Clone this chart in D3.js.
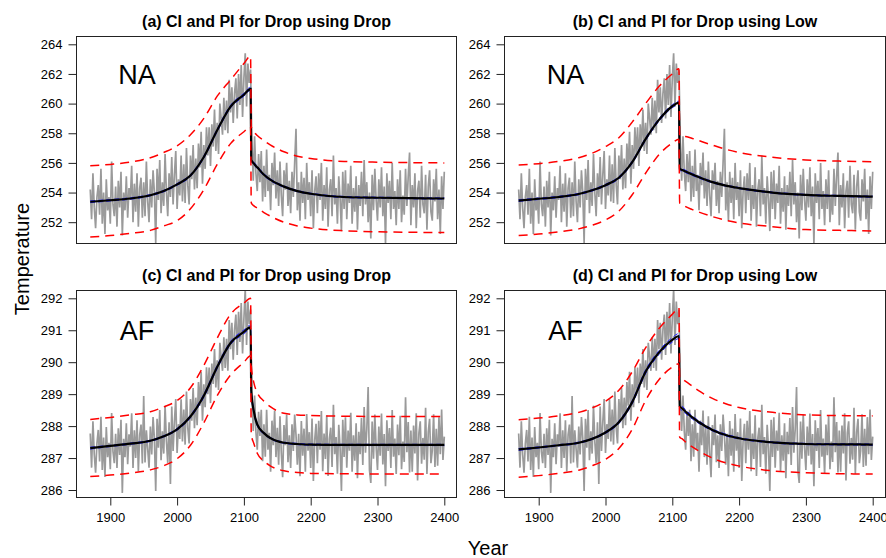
<!DOCTYPE html>
<html>
<head>
<meta charset="utf-8">
<script src="https://cdn.jsdelivr.net/npm/d3@7"></script>
<style>
  body { margin: 0; background: #fff; }
  text { font-family: "Liberation Sans", Arial, Helvetica, sans-serif; }
</style>
</head>
<body>
<svg id="fig" width="886" height="558"></svg>
<script>
// knot years for the fitted curves (drop happens between 2110 and 2111)
var knotYears = [1870,1900,1930,1960,1980,2000,2020,2040,2060,2080,2100,2110,
                 2111,2115,2120,2130,2140,2160,2180,2200,2250,2300,2350,2400];

// observed series, one value every 2 years from 1870 to 2400
var obsNA = [
  254.2,252.2,255.3,253.0,251.6,253.7,254.5,252.5,255.6,251.9,
  254.0,251.2,254.9,252.8,253.7,251.9,256.1,253.2,252.4,254.4,
  251.7,254.8,253.0,255.4,251.1,254.0,252.8,255.1,252.3,254.3,
  253.5,255.8,252.0,254.6,252.7,255.3,251.7,254.3,255.0,252.3,
  254.7,252.4,256.1,253.4,252.0,254.9,253.0,255.5,254.0,250.6,
  255.6,253.5,256.2,252.6,254.7,253.1,256.6,254.0,252.4,255.3,
  253.7,256.4,253.2,255.2,256.8,252.9,254.9,253.8,256.5,253.4,
  255.9,253.3,257.0,254.5,253.2,256.5,254.9,257.2,254.2,256.3,
  254.3,257.3,255.7,258.1,254.6,257.2,255.6,258.4,256.5,258.4,
  255.8,258.6,257.1,259.6,256.8,258.7,256.6,260.0,259.0,257.9,
  260.4,258.2,260.2,258.0,261.6,259.4,261.1,258.7,260.7,261.7,
  259.0,262.0,259.9,262.6,259.1,261.7,263.4,259.8,262.7,261.4,
  262.3,257.4,254.8,257.8,255.3,254.1,256.6,254.7,256.8,253.4,
  255.8,253.7,256.9,254.1,255.2,252.8,256.0,254.5,256.7,253.6,
  255.5,253.1,256.1,253.8,252.4,255.5,254.2,256.0,253.1,254.8,
  252.6,255.4,253.7,256.0,258.3,252.8,254.7,252.1,255.4,253.3,
  255.0,252.2,256.0,253.5,254.7,252.4,255.5,251.6,254.1,255.1,
  252.6,255.3,253.5,256.0,252.1,254.5,252.9,255.7,251.7,254.2,
  254.9,252.4,256.5,253.2,254.3,251.9,255.1,253.6,251.4,255.4,
  252.9,255.5,252.2,254.6,253.3,255.8,251.9,254.3,252.7,255.1,
  251.5,254.5,253.1,255.4,252.4,256.2,253.2,254.7,252.0,254.0,
  250.9,255.2,252.8,255.6,253.5,252.1,254.9,253.0,255.7,252.4,
  254.4,250.5,255.3,253.3,254.8,252.2,256.0,252.9,254.1,251.8,
  254.9,252.9,255.5,252.0,253.8,252.5,255.6,253.1,255.1,256.7,
  251.8,254.5,253.0,255.3,251.6,254.1,254.8,252.3,255.8,253.2,
  252.6,255.2,251.5,254.4,255.5,252.7,252.1,254.9,253.4,255.6,
  252.2,254.2,251.2,255.1,252.9,255.4
];
var obsAF = [
  287.77,286.70,288.15,287.11,286.54,287.46,287.88,286.89,288.29,286.63,
  287.64,286.41,287.97,287.03,287.48,286.65,288.41,287.21,286.84,287.76,
  286.69,287.93,287.10,288.20,285.91,287.60,287.03,288.09,286.81,287.74,
  287.36,288.40,286.69,287.87,287.00,288.18,286.58,287.73,288.05,286.83,
  288.94,286.86,287.87,287.28,286.70,287.99,287.11,288.28,287.61,285.97,
  288.23,287.32,288.50,286.93,287.84,287.14,288.64,287.53,286.85,288.12,
  286.19,288.61,287.22,288.14,288.85,287.16,288.06,287.60,288.84,287.52,
  288.52,287.42,289.08,287.94,287.46,288.85,288.17,289.19,287.93,288.89,
  288.03,289.38,288.64,289.70,288.17,289.31,288.59,289.84,289.00,289.83,
  288.72,289.96,289.32,290.41,289.21,290.06,289.13,290.61,290.17,289.73,
  290.78,289.82,290.73,289.73,291.32,290.41,291.23,290.08,291.02,291.49,
  290.23,291.58,290.63,291.85,290.27,291.36,292.28,290.54,291.90,291.19,
  291.65,289.02,287.85,288.96,287.82,287.26,288.45,287.69,288.51,286.90,
  288.06,287.04,288.51,287.26,287.79,286.57,288.17,287.40,288.49,287.03,
  287.95,286.79,288.31,287.16,286.40,288.03,287.40,288.36,286.87,287.71,
  286.69,288.06,287.22,288.36,287.73,286.79,287.76,286.43,288.16,287.07,
  287.92,286.57,288.38,287.23,287.81,286.69,288.24,286.28,287.56,288.07,
  286.84,288.17,287.26,288.47,286.59,287.77,286.97,288.34,286.44,287.62,
  287.95,286.72,288.67,287.12,287.66,286.51,288.04,287.31,285.97,288.20,
  287.03,288.28,286.70,287.86,287.23,288.42,286.57,287.71,286.92,288.09,
  286.37,287.82,287.12,288.25,286.78,288.60,287.17,287.90,289.22,286.62,
  286.22,288.14,286.98,288.36,287.33,286.63,287.99,287.07,288.39,286.80,
  287.75,286.12,288.18,287.22,287.94,286.69,288.50,287.04,287.61,286.50,
  288.05,287.09,288.32,286.65,287.52,286.88,288.90,287.18,288.13,286.55,
  287.86,286.57,288.02,287.14,288.40,286.30,287.78,288.15,286.82,287.63,
  286.95,288.57,286.50,287.81,288.23,286.84,287.23,288.37,286.72,287.92,
  286.76,288.28,287.12,288.52,286.94,287.67
];

// (a) NA, Drop fitted with Drop
var meanA = [253.38,253.48,253.6,253.82,254.1,254.55,255.15,256.4,258.2,259.8,260.6,261.0,
             256.2,255.95,255.7,255.2,254.85,254.4,254.1,253.92,253.7,253.65,253.62,253.6];
var ciHiA = [253.44,253.53,253.65,253.87,254.15,254.61,255.22,256.48,258.29,259.89,260.7,261.11,
             256.3,256.04,255.78,255.27,254.91,254.45,254.14,253.96,253.74,253.69,253.66,253.64];
var ciLoA = [253.32,253.43,253.55,253.77,254.05,254.49,255.08,256.32,258.11,259.71,260.5,260.89,
             256.1,255.86,255.62,255.13,254.79,254.35,254.06,253.88,253.66,253.61,253.58,253.56];
var piHiA = [255.8,255.9,256.05,256.35,256.7,257.15,257.9,259.0,260.5,261.6,262.7,263.2,
             258.45,258.1,257.85,257.5,257.2,256.75,256.45,256.3,256.1,256.05,256.02,256.0];
var piLoA = [251.0,251.1,251.25,251.45,251.75,252.1,252.9,254.2,255.9,257.3,258.1,258.45,
             253.3,253.1,252.95,252.65,252.4,252.0,251.75,251.6,251.42,251.35,251.32,251.3];

// (b) NA, Drop fitted with Low
var meanB = [253.46,253.58,253.7,253.9,254.15,254.5,255.0,256.05,257.6,258.9,259.82,260.06,
             255.6,255.52,255.42,255.22,255.03,254.7,254.47,254.3,254.0,253.84,253.77,253.72];
var ciHiB = [253.52,253.63,253.75,253.95,254.2,254.56,255.07,256.13,257.69,258.99,259.92,260.17,
             255.7,255.61,255.5,255.29,255.09,254.75,254.51,254.34,254.04,253.88,253.81,253.76];
var ciLoB = [253.4,253.53,253.65,253.85,254.1,254.44,254.93,255.97,257.51,258.81,259.72,259.95,
             255.5,255.43,255.34,255.15,254.97,254.65,254.43,254.26,253.96,253.8,253.73,253.68];
var piHiB = [255.85,255.95,256.1,256.35,256.65,257.1,257.7,258.75,260.0,261.15,262.0,262.35,
             257.85,257.82,257.78,257.65,257.5,257.2,256.92,256.7,256.38,256.2,256.12,256.08];
var piLoB = [251.1,251.2,251.35,251.55,251.8,252.15,252.75,253.85,255.3,256.55,257.35,257.6,
             253.3,253.2,253.05,252.85,252.68,252.38,252.13,251.95,251.7,251.5,251.45,251.41];

// (c) AF, Drop fitted with Drop
var meanC = [287.31,287.38,287.45,287.54,287.68,287.9,288.3,288.95,289.85,290.6,290.95,291.1,
             289.1,288.45,288.05,287.78,287.62,287.48,287.44,287.42,287.41,287.41,287.41,287.41];
var ciHiC = [287.34,287.4,287.47,287.56,287.7,287.93,288.34,289.0,289.9,290.65,291.01,291.16,
             289.16,288.5,288.09,287.81,287.64,287.5,287.46,287.44,287.43,287.43,287.43,287.43];
var ciLoC = [287.28,287.36,287.43,287.52,287.66,287.87,288.26,288.9,289.8,290.55,290.89,291.04,
             289.04,288.4,288.01,287.75,287.6,287.46,287.42,287.4,287.39,287.39,287.39,287.39];
var piHiC = [288.21,288.27,288.35,288.45,288.6,288.8,289.2,289.9,290.75,291.5,291.85,292.0,
             289.9,289.35,289.05,288.78,288.6,288.4,288.35,288.33,288.31,288.3,288.3,288.3];
var piLoC = [286.42,286.47,286.53,286.63,286.76,286.98,287.4,288.1,288.95,289.6,290.0,290.2,
             287.75,287.45,287.15,286.9,286.75,286.6,286.55,286.52,286.51,286.5,286.5,286.5];

// (d) AF, Drop fitted with Low
var meanD = [287.27,287.33,287.4,287.48,287.6,287.8,288.12,288.75,289.7,290.3,290.7,290.82,
             288.62,288.55,288.45,288.27,288.12,287.88,287.72,287.62,287.49,287.44,287.43,287.42];
var ciHiD = [287.3,287.35,287.42,287.5,287.62,287.83,288.16,288.8,289.76,290.36,290.77,290.9,
             288.7,288.62,288.51,288.32,288.16,287.91,287.75,287.64,287.51,287.46,287.45,287.44];
var ciLoD = [287.24,287.31,287.38,287.46,287.58,287.77,288.08,288.7,289.64,290.24,290.63,290.74,
             288.54,288.48,288.39,288.22,288.08,287.85,287.69,287.6,287.47,287.42,287.41,287.4];
var piHiD = [288.2,288.25,288.32,288.43,288.57,288.78,289.12,289.7,290.45,291.05,291.5,291.7,
             289.5,289.47,289.4,289.25,289.1,288.87,288.7,288.58,288.43,288.35,288.33,288.32];
var piLoD = [286.4,286.45,286.52,286.62,286.76,286.96,287.3,287.9,288.8,289.45,289.85,289.95,
             287.65,287.6,287.5,287.35,287.22,287.0,286.85,286.75,286.6,286.54,286.51,286.5];

var yTicksNA = [252,254,256,258,260,262,264];
var yTicksAF = [286,287,288,289,290,291,292];
var xTicks = [1900,2000,2100,2200,2300,2400];

var obsYears = d3.range(1870, 2401, 2);

var panels = [
  {id:"a", title:"(a) CI and PI for Drop using Drop", label:"NA", obs:obsNA, yTicks:yTicksNA,
   mean:meanA, ciHi:ciHiA, ciLo:ciLoA, piHi:piHiA, piLo:piLoA, labelY:262,
   left:76.5, right:456.5, top:36.5, bottom:243.5, px:[110.3,444.3], py:[222.2,44.3], yv:[252,264], xAxis:false},
  {id:"b", title:"(b) CI and PI for Drop using Low", label:"NA", obs:obsNA, yTicks:yTicksNA,
   mean:meanB, ciHi:ciHiB, ciLo:ciLoB, piHi:piHiB, piLo:piLoB, labelY:262,
   left:504.5, right:885.5, top:36.5, bottom:243.5, px:[538.7,872.7], py:[222.2,44.3], yv:[252,264], xAxis:false},
  {id:"c", title:"(c) CI and PI for Drop using Drop", label:"AF", obs:obsAF, yTicks:yTicksAF,
   mean:meanC, ciHi:ciHiC, ciLo:ciLoC, piHi:piHiC, piLo:piLoC, labelY:291,
   left:76.5, right:456.5, top:290.5, bottom:497.5, px:[110.3,444.3], py:[490,298.3], yv:[286,292], xAxis:true},
  {id:"d", title:"(d) CI and PI for Drop using Low", label:"AF", obs:obsAF, yTicks:yTicksAF,
   mean:meanD, ciHi:ciHiD, ciLo:ciLoD, piHi:piHiD, piLo:piLoD, labelY:291,
   left:504.5, right:885.5, top:290.5, bottom:497.5, px:[538.7,872.7], py:[490,298.3], yv:[286,292], xAxis:true}
];

var svg = d3.select("#fig");
var tickLen = 8;

panels.forEach(function(p) {
  var xScale = d3.scaleLinear().domain([1900, 2400]).range(p.px);
  var yScale = d3.scaleLinear().domain(p.yv).range(p.py);

  svg.append("clipPath").attr("id", "clip-" + p.id)
    .append("rect")
      .attr("x", p.left).attr("y", p.top)
      .attr("width", p.right - p.left).attr("height", p.bottom - p.top);

  var g = svg.append("g").attr("clip-path", "url(#clip-" + p.id + ")");

  var obsLine = d3.line()
      .x(function(d, i) { return xScale(obsYears[i]); })
      .y(function(d) { return yScale(d); });

  var fitLine = d3.line()
      .x(function(d, i) { return xScale(knotYears[i]); })
      .y(function(d) { return yScale(d); })
      .curve(d3.curveMonotoneX);

  g.append("path").datum(p.obs)
    .attr("d", obsLine)
    .attr("fill", "none").attr("stroke", "#9a9a9a").attr("stroke-width", 1.7)
    .attr("stroke-linejoin", "miter");

  [p.ciHi, p.ciLo].forEach(function(s) {
    g.append("path").datum(s).attr("d", fitLine)
      .attr("fill", "none").attr("stroke", "#2020ff").attr("stroke-width", 1)
      .attr("stroke-dasharray", "5,3");
  });

  g.append("path").datum(p.mean).attr("d", fitLine)
    .attr("fill", "none").attr("stroke", "#000").attr("stroke-width", 2.2);

  [p.piHi, p.piLo].forEach(function(s) {
    g.append("path").datum(s).attr("d", fitLine)
      .attr("fill", "none").attr("stroke", "#ff0000").attr("stroke-width", 1.5)
      .attr("stroke-dasharray", "9,6");
  });

  // region label
  g.append("text")
    .attr("x", xScale(1940)).attr("y", yScale(p.labelY))
    .attr("dy", "0.36em")
    .attr("text-anchor", "middle")
    .attr("font-size", "27px")
    .text(p.label);

  // frame
  svg.append("rect")
    .attr("x", p.left).attr("y", p.top)
    .attr("width", p.right - p.left).attr("height", p.bottom - p.top)
    .attr("fill", "none").attr("stroke", "#222").attr("stroke-width", 1);

  // y axis
  var yAxis = d3.axisLeft(yScale).tickValues(p.yTicks).tickSize(tickLen).tickPadding(6)
      .tickFormat(d3.format("d"));
  var ya = svg.append("g").attr("transform", "translate(" + p.left + ",0)").call(yAxis);
  ya.select(".domain").remove();
  ya.selectAll("text").attr("font-size", "13px").attr("font-family", null).attr("fill", "#000");
  ya.selectAll("line").attr("stroke", "#222");

  if (p.xAxis) {
    var xAxis = d3.axisBottom(xScale).tickValues(xTicks).tickSize(tickLen).tickPadding(7)
        .tickFormat(d3.format("d"));
    var xa = svg.append("g").attr("transform", "translate(0," + p.bottom + ")").call(xAxis);
    xa.select(".domain").remove();
    xa.selectAll("text").attr("font-size", "13px").attr("font-family", null).attr("fill", "#000");
    xa.selectAll("line").attr("stroke", "#222");
  }

  // title
  svg.append("text")
    .attr("x", (p.left + p.right) / 2).attr("y", p.top - 9.5)
    .attr("text-anchor", "middle")
    .attr("font-size", "16px").attr("font-weight", "bold")
    .text(p.title);
});

svg.append("text")
  .attr("transform", "translate(29,259) rotate(-90)")
  .attr("text-anchor", "middle")
  .attr("font-size", "20px")
  .text("Temperature");

svg.append("text")
  .attr("x", 488).attr("y", 555)
  .attr("text-anchor", "middle")
  .attr("font-size", "20px")
  .text("Year");
</script>
</body>
</html>
